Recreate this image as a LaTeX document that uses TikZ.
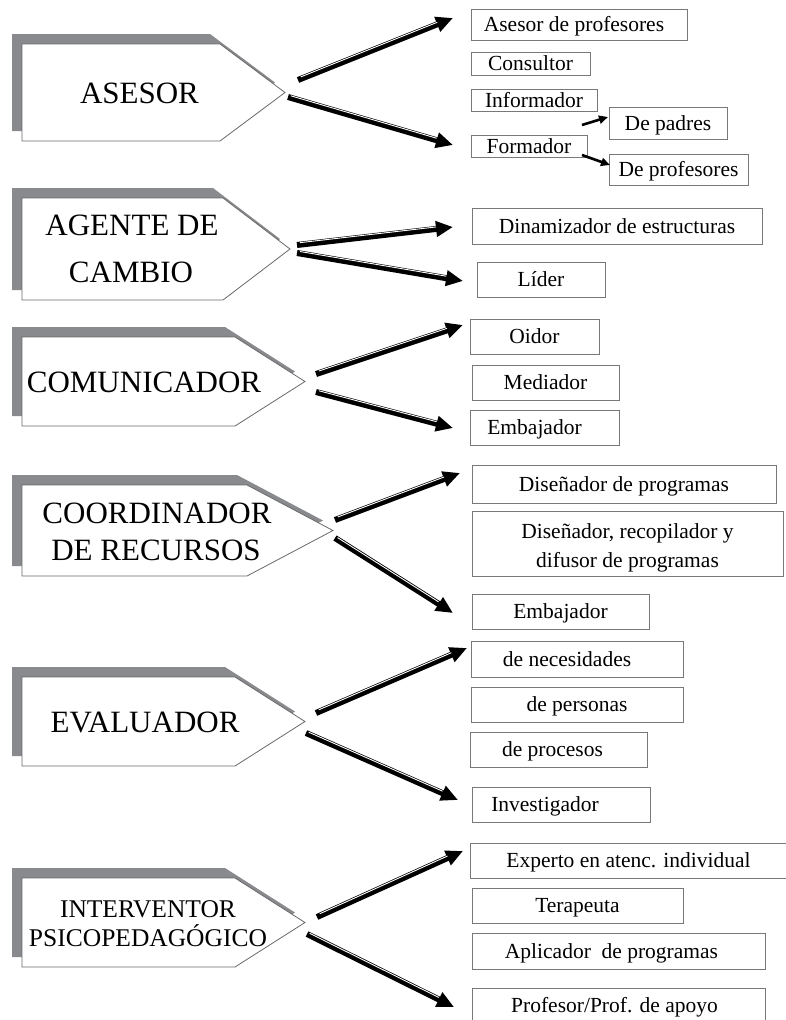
\documentclass[tikz,border=0pt]{standalone}
\usepackage{fontspec}
\setmainfont{Liberation Serif}
\usetikzlibrary{arrows.meta}
\definecolor{shadowgray}{RGB}{137,138,142}
\definecolor{edgegray}{RGB}{105,105,105}
\definecolor{boxgray}{RGB}{120,120,120}
\newcommand\pentshape[5]{%
  \fill[shadowpart] (12,#2-10) -- (#4-10,#2-10) -- (#5-10,{(#2+#3)/2-10}) -- (#4-10,#3-10) -- (12,#3-10) -- cycle;
  \draw[pentpart] (22,#2) -- (#4,#2) -- (#5,{(#2+#3)/2}) -- (#4,#3) -- (22,#3) -- cycle;
  \coordinate (#1) at (#5,{(#2+#3)/2});}
\begin{document}
\begin{tikzpicture}[x=1pt,y=-1pt,
  shadowpart/.style={fill=shadowgray},
  pentpart/.style={draw=edgegray, line width=0.8pt, fill=white},
  bigtxt/.style={font=\fontsize{31}{37}\selectfont, inner sep=0pt, anchor=base},
  boxframe/.style={draw=boxgray, line width=0.9pt, inner sep=0pt, font=\fontsize{21.5}{29}\selectfont},
  box/.style={boxframe, text height=18pt, text depth=4pt},
  bigarrow/.style={line width=6pt, -{Triangle[length=17pt,width=15pt]}, black},
  shine/.style={white, line width=0.9pt, shorten >=17pt, shorten <=3pt, transform canvas={yshift=2pt}},
  smallarrow/.style={line width=2.6pt, -{Triangle[length=9pt,width=8pt]}, black},
]
\useasboundingbox (0,0) rectangle (786,1020);

% ---------- left pentagons ----------
\pentshape{p1}{44}{141}{220}{285}
\pentshape{p2}{198}{300}{223}{290}
\pentshape{p3}{337}{426}{235}{305}
\pentshape{p4}{485}{576}{247}{333}
\pentshape{p5}{677}{766}{235}{305}
\pentshape{p6}{878}{967}{235}{305}

\node[bigtxt] (t1) at (139.5,103) {ASESOR};
\node[bigtxt] (t2a) at (132,235) {AGENTE DE};
\node[bigtxt] (t2b) at (131,282) {CAMBIO};
\node[bigtxt] (t3) at (144,392) {COMUNICADOR};
\node[bigtxt] (t4a) at (157,523) {COORDINADOR};
\node[bigtxt] (t4b) at (156,560) {DE RECURSOS};
\node[bigtxt] (t5) at (145,732) {EVALUADOR};
\node[bigtxt, font=\fontsize{25.5}{30}\selectfont] (t6a) at (148,917) {INTERVENTOR};
\node[bigtxt, font=\fontsize{25.5}{30}\selectfont] (t6b) at (148,946) {PSICOPEDAGÓGICO};

% ---------- right boxes ----------
\node[box, minimum width=216pt, minimum height=31pt] (b1) at (579,24.5) {Asesor de profesores\hspace*{10pt}};
\node[box, minimum width=119pt, minimum height=23pt] (b2) at (530.5,63.5) {Consultor};
\node[box, minimum width=126pt, minimum height=22pt] (b3) at (534,100) {Informador};
\node[box, minimum width=118pt, minimum height=32pt] (b4) at (668,123) {De padres};
\node[box, minimum width=116pt, minimum height=21pt] (b5) at (529,146.5) {Formador};
\node[box, minimum width=139pt, minimum height=31pt] (b6) at (678.5,169.5) {De profesores};
\node[box, minimum width=290pt, minimum height=36pt] (b7) at (617,226) {Dinamizador de estructuras};
\node[box, minimum width=128pt, minimum height=35pt] (b8) at (541,279.5) {Líder};
\node[box, minimum width=129pt, minimum height=35pt] (b9) at (534.5,336.5) {Oidor};
\node[box, minimum width=147pt, minimum height=35pt] (b10) at (545.5,382.5) {Mediador};
\node[box, minimum width=149pt, minimum height=35pt] (b11) at (544.5,427.5) {Embajador\hspace*{20pt}};
\node[box, minimum width=304pt, minimum height=38pt] (b12) at (624,484) {Diseñador de programas};
\node[boxframe, minimum width=311pt, minimum height=65pt] (b13) at (627.5,543.5) {};
\node[font=\fontsize{21.5}{29}\selectfont, align=center, inner sep=0pt] (b13t) at ([yshift=-4pt]b13.center) {Diseñador, recopilador y\\difusor de programas};
\node[box, minimum width=177pt, minimum height=35pt] (b14) at (560.5,611.5) {Embajador};
\node[box, minimum width=212pt, minimum height=36pt] (b15) at (577,659) {de necesidades\hspace*{20pt}};
\node[box, minimum width=212pt, minimum height=35pt] (b16) at (577,704.5) {de personas};
\node[box, minimum width=177pt, minimum height=35pt] (b17) at (558.5,749.5) {de procesos\hspace*{12pt}};
\node[box, minimum width=178pt, minimum height=35pt] (b18) at (561,804.5) {Investigador\hspace*{32pt}};
\node[box, minimum width=317pt, minimum height=35pt] (b19) at (628.5,860.5) {Experto en atenc. individual};
\node[box, minimum width=211pt, minimum height=35pt] (b20) at (577.5,905.5) {Terapeuta};
\node[box, minimum width=293pt, minimum height=36pt] (b21) at (618.5,951) {Aplicador\ \ de programas\hspace*{14pt}};
\node[box, minimum width=293pt, minimum height=34pt] (b22) at (618.5,1005) {Profesor/Prof. de apoyo\hspace*{8pt}};

% ---------- arrow end points ----------
\coordinate (a1us) at (298,80);   \coordinate (a1ue) at (453,18);
\coordinate (a1ds) at (288,97);   \coordinate (a1de) at (453,145);
\coordinate (a2us) at (297,245);  \coordinate (a2ue) at (453,227);
\coordinate (a2ds) at (297,253);  \coordinate (a2de) at (463,281);
\coordinate (a3us) at (316,374);  \coordinate (a3ue) at (463,325);
\coordinate (a3ds) at (316,392);  \coordinate (a3de) at (453,428);
\coordinate (a4us) at (335,520);  \coordinate (a4ue) at (460,473);
\coordinate (a4ds) at (335,538);  \coordinate (a4de) at (453,613);
\coordinate (a5us) at (316,713);  \coordinate (a5ue) at (467,648);
\coordinate (a5ds) at (306,733);  \coordinate (a5de) at (458,800);
\coordinate (a6us) at (317,917);  \coordinate (a6ue) at (463,851);
\coordinate (a6ds) at (307,934);  \coordinate (a6de) at (454,1007);
\coordinate (s1s) at (582,125);   \coordinate (s1e) at (608,117);
\coordinate (s2s) at (582,155);   \coordinate (s2e) at (610,165);

\foreach \n in {1,...,6}{
  \draw[bigarrow] (a\n us) -- (a\n ue);
  \draw[shine] (a\n us) -- (a\n ue);
  \draw[bigarrow] (a\n ds) -- (a\n de);
  \draw[shine] (a\n ds) -- (a\n de);
}
\draw[smallarrow] (s1s) -- (s1e);
\draw[smallarrow] (s2s) -- (s2e);
\end{tikzpicture}
\end{document}
